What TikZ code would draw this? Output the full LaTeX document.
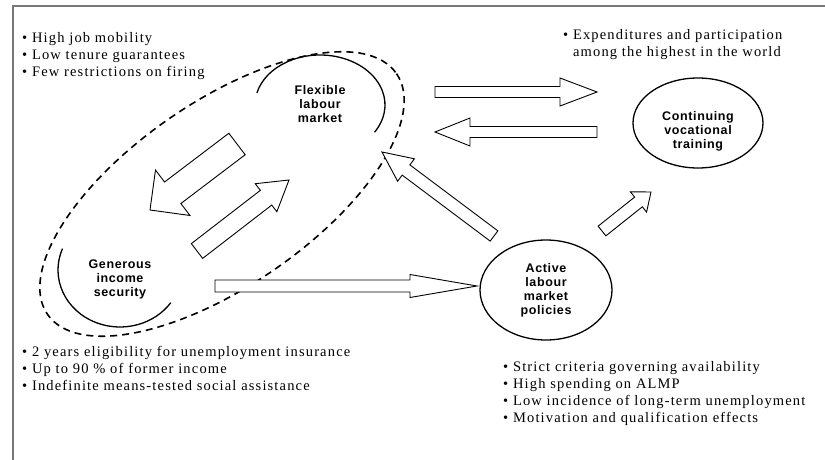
\documentclass[tikz,border=0pt]{standalone}
\usepackage{fontspec}
\setmainfont{Liberation Serif}
\newfontfamily\notefont[LetterSpace=8]{Liberation Serif}
\newfontfamily\hubfont[LetterSpace=5]{Liberation Sans}
\usetikzlibrary{calc,shapes.geometric}

\definecolor{framegray}{RGB}{120,120,120}

\tikzset{
  note/.style={anchor=north west, inner sep=0pt, align=left,
    font=\notefont\fontsize{14.5}{17}\selectfont},
  hubtext/.style={inner sep=0pt, align=center,
    font=\hubfont\bfseries\fontsize{12.5}{14}\selectfont},
  hub/.style={hubtext, draw, ellipse, line width=1.3pt},
  rim/.style={line width=1.3pt},
  zone/.style={line width=1.6pt, dash pattern=on 7pt off 5pt},
  fat/.style={draw, fill=white, line width=0.9pt, line join=miter},
}

% tail, tip, half shaft, half head, head length
\newcommand{\fatarrow}[5]{%
  \coordinate (fatbase) at ($(#2)!#5!(#1)$);
  \draw[fat] ($(#1)!#3!90:(#2)$) -- ($(fatbase)!#3!90:(#2)$)
    -- ($(fatbase)!#4!90:(#2)$) -- (#2) -- ($(fatbase)!#4!-90:(#2)$)
    -- ($(fatbase)!#3!-90:(#2)$) -- ($(#1)!#3!-90:(#2)$) -- cycle;
}

\begin{document}
\begin{tikzpicture}[x=1pt, y=-1pt]
  \useasboundingbox (0,0) rectangle (825,460);
  \draw[framegray, line width=1.5pt] (825,6) -- (13,6) -- (13,460);

  % the pillars
  \node[hubtext] (flex) at (320,104) {Flexible\\labour\\market};
  \node[hubtext] (gen) at (120,279) {Generous\\income\\security};
  \node[hub, minimum width=132pt, minimum height=100pt] (almp) at (546,290)
    {Active\\labour\\market\\policies};
  \node[hub, minimum width=130pt, minimum height=90pt] (cvt) at (698,123) {};
  \node[hubtext] (cvtname) at (698,131) {Continuing\\vocational\\training};

  \draw[rim] (320,105) ++(194:65 and 50)
    arc[start angle=194, end angle=393, x radius=65, y radius=50];
  \draw[rim] (120,270) ++(202:62 and 57)
    arc[start angle=202, end angle=35, x radius=62, y radius=57];
  \draw[zone, rotate around={34.6:(222,194)}] (222,194)
    ellipse[x radius=212, y radius=92];

  % arrows
  \coordinate (t1) at (435,92);  \coordinate (h1) at (597,92);
  \coordinate (t2) at (597,132); \coordinate (h2) at (435,132);
  \coordinate (t3) at (215,286); \coordinate (h3) at (477,286);
  \coordinate (t4) at (494,236); \coordinate (h4) at (382,152);
  \coordinate (t5) at (602,231); \coordinate (h5) at (651,192);
  \coordinate (t6) at (237,144); \coordinate (h6) at (150,210);
  \coordinate (t7) at (197,251); \coordinate (h7) at (289,180);
  \fatarrow{t1}{h1}{5.5pt}{14pt}{37pt}
  \fatarrow{t2}{h2}{5.5pt}{14pt}{35pt}
  \fatarrow{t3}{h3}{6pt}{11.5pt}{67pt}
  \fatarrow{t4}{h4}{6.4pt}{14pt}{30pt}
  \fatarrow{t5}{h5}{6.2pt}{13pt}{16pt}
  \fatarrow{t6}{h6}{13.5pt}{28.5pt}{28.5pt}
  \fatarrow{t7}{h7}{9.3pt}{17.7pt}{29pt}

  % notes
  \node[note] (flexnotes) at (22,32) {\textbullet\ High job mobility\\
    \textbullet\ Low tenure guarantees\\ \textbullet\ Few restrictions on firing};
  \node[note] (cvtnotes) at (563,29) {\textbullet\ Expenditures and participation\\
    \phantom{\textbullet\ }among the highest in the world};
  \node[note] (gennotes) at (22,346) {\textbullet\ 2 years eligibility for unemployment insurance\\
    \textbullet\ Up to 90 \% of former income\\
    \textbullet\ Indefinite means-tested social assistance};
  \node[note] (almpnotes) at (503,361) {\textbullet\ Strict criteria governing availability\\
    \textbullet\ High spending on ALMP\\
    \textbullet\ Low incidence of long-term unemployment\\
    \textbullet\ Motivation and qualification effects};
\end{tikzpicture}
\end{document}
